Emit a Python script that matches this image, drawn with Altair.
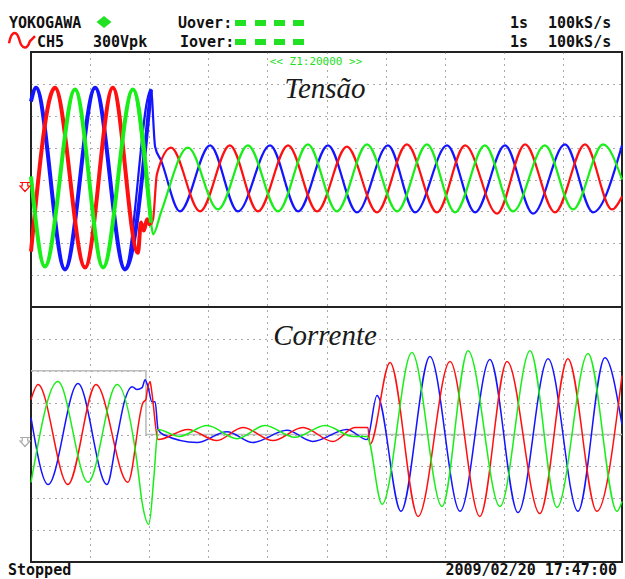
import altair as alt
import pandas as pd

# ---------------- data (time in ms, value in screen divisions) ----------------
# Tensão (top panel)
v_red_t = [0, 8.1, 18.3, 27.7, 36.2, 37.2, 38.2, 39.3, 40.3, 41.3, 42.6, 47.4, 57.2, 67.3, 76.8, 87.0, 96.8, 106.9,
           117.1, 127.2, 137.4, 146.9, 157.7, 167.2, 177.3, 187.5, 196.6, 200]
v_red = [-2.26, 2.88, -2.76, 2.88, -2.30, -1.35, -1.60, -1.25, -1.44, -1.25, 0.16, 1.00, -1.00, 1.07, -1.00, 1.07,
         -1.00, 1.03, -1.03, 1.10, -1.03, 1.07, -1.07, 1.10, -1.03, 1.10, -0.94, -0.53]

v_blue_t = [0, 1.7, 11.5, 21.7, 31.8, 40.6, 42.0, 44.0, 50.4, 60.6, 70.0, 80.9, 90.4, 100.5, 110.3, 120.8, 130.0,
            140.8, 150.3, 160.4, 169.9, 180.7, 190.2, 200]
v_blue = [2.45, 2.88, -2.82, 2.88, -2.82, 2.82, 1.03, 0.60, -1.00, 1.07, -1.00, 1.07, -1.00, 1.07, -1.03, 1.07,
          -1.03, 1.07, -1.03, 1.07, -1.07, 1.10, -1.03, 1.07]

v_green_t = [0, 4.7, 14.9, 24.4, 34.5, 40.6, 41.3, 44.0, 53.1, 63.3, 73.4, 83.6, 93.7, 103.5, 113.7, 123.9, 134.0,
             143.5, 153.6, 163.1, 173.9, 183.4, 193.6, 200]
v_green = [0.09, -2.73, 2.82, -2.76, 2.82, -1.35, -1.72, -1.03, 1.00, -0.94, 1.07, -1.00, 1.10, -1.00, 1.10, -1.00,
           1.10, -1.03, 1.07, -1.00, 1.07, -0.94, 1.10, 0.00]

# Corrente (bottom panel)
i_red_t = [0, 2.4, 12.5, 22.0, 32.8, 37.9, 38.9, 39.3, 40.3, 40.9, 43.0, 53.1, 62.9, 71.7, 81.9, 92.0, 102.2, 109.6,
           114.0, 114.7, 121.5, 131.0, 141.8, 151.9, 161.1, 172.2, 181.7, 191.5, 200]
i_red = [1.10, 1.57, -1.57, 1.57, -1.50, 1.00, 1.10, 1.35, 1.66, 1.32, -0.16, 0.16, -0.19, 0.22, -0.19, 0.22, -0.22,
         0.22, 0.22, -0.31, 2.26, -2.57, 2.29, -2.57, 2.29, -2.48, 2.38, -2.41, 1.85]

i_green_t = [0, 9.1, 19.3, 29.1, 35.9, 37.6, 39.9, 41.6, 43.0, 50.1, 59.6, 69.7, 79.2, 89.3, 99.5, 109.0, 113.7,
             118.8, 128.9, 139.1, 147.9, 158.7, 168.9, 178.0, 188.5, 198.3, 200]
i_green = [-1.50, 1.66, -1.50, 1.57, -0.88, -2.13, -2.82, -1.32, 0.16, -0.06, 0.28, -0.13, 0.28, -0.09, 0.28, -0.06,
           -0.06, -2.19, 2.57, -2.26, 2.63, -2.26, 2.63, -2.29, 2.54, -2.41, -2.10]

i_blue_t = [0, 5.8, 15.9, 25.7, 29.1, 31.8, 34.2, 35.9, 37.6, 38.6, 39.6, 40.9, 42.0, 43.0, 44.7, 56.2, 66.3, 75.1,
            86.6, 95.4, 106.9, 113.7, 117.1, 125.2, 135.0, 145.2, 155.3, 164.8, 175.0, 185.1, 194.2, 200]
i_blue = [0.53, -1.57, 1.60, -1.57, -0.09, 1.10, 1.50, 1.41, 1.47, 1.72, 1.50, 1.03, 1.03, 0.16, 0.00, -0.25, 0.09,
          -0.25, 0.13, -0.22, 0.16, -0.16, 1.22, -2.41, 2.45, -2.41, 2.35, -2.45, 2.38, -2.41, 2.41, 0.31]

# trigger / reference trace (gray)
trig_t = [0, 38.9, 38.9, 200]
trig_v = [2.0, 2.0, 0.0, 0.0]

phases = ["R", "G", "B"]
phase_colors = ["#ff1010", "#19ee19", "#1414ff"]

series = [
    ("V", "B", v_blue_t, v_blue), ("V", "R", v_red_t, v_red), ("V", "G", v_green_t, v_green),
    ("I", "B", i_blue_t, i_blue), ("I", "R", i_red_t, i_red), ("I", "G", i_green_t, i_green),
]
rows = []
for panel, ph, ts, vs in series:
    for k, (t, v) in enumerate(zip(ts, vs)):
        rows.append({"panel": panel, "phase": ph, "key": panel + ph, "t": t, "v": v, "i": k})
df = pd.DataFrame(rows)
trig_df = pd.DataFrame({"t": trig_t, "v": trig_v, "i": list(range(len(trig_t)))})

# ---------------- encodings ----------------
X = alt.X("t:Q", scale=alt.Scale(domain=[0, 200], nice=False, zero=False),
          axis=alt.Axis(values=list(range(20, 200, 20)), grid=True, gridDash=[1, 5], gridColor="#555",
                        gridWidth=1, labels=False, ticks=False, domain=False, title=None))
Y = alt.Y("y:Q", scale=alt.Scale(domain=[-8, 8], nice=False, zero=False),
          axis=alt.Axis(values=[-7, -6, -5, -4, -3, -2, -1, 1, 2, 3, 4, 5, 6, 7], grid=True, gridDash=[1, 5],
                        gridColor="#555", gridWidth=1, labels=False, ticks=False, domain=False, title=None))
COLOR = alt.Color("phase:N", scale=alt.Scale(domain=phases, range=phase_colors), legend=None)

base = alt.Chart(df).transform_calculate(
    y="datum.panel == 'V' ? datum.v + 4 : datum.v - 4"
).encode(x=X, y=Y, color=COLOR, detail="key:N")

trig = alt.Chart(trig_df).transform_calculate(y="datum.v - 4").mark_line(
    color="#bdbdbd", strokeWidth=1.6).encode(x=X, y=Y, order="i:Q")

v_thick = base.transform_filter("datum.panel == 'V' && datum.t <= 41").mark_line(
    interpolate="monotone", strokeWidth=4)
v_line = base.transform_filter("datum.panel == 'V'").mark_line(interpolate="monotone", strokeWidth=2.2)
i_line = base.transform_filter("datum.panel == 'I'").mark_line(interpolate="monotone", strokeWidth=1.5)

ONE = pd.DataFrame({"a": [0]})
OX, OY = 31, 52  # plot origin in page pixels


def label(text, x, y, size=15, color="#111", font="DejaVu Sans Mono", weight="bold", align="left", style="normal"):
    return alt.Chart(ONE).mark_text(text=text, fontSize=size, font=font, fontWeight=weight, color=color,
                                    align=align, baseline="alphabetic", fontStyle=style).encode(
        x=alt.value(x - OX), y=alt.value(y - OY))


def rect(x0, x1, y0, y1, color):
    return alt.Chart(ONE).mark_rect(color=color).encode(
        x=alt.value(x0 - OX), x2=alt.value(x1 - OX), y=alt.value(y0 - OY), y2=alt.value(y1 - OY))


def symbol(path, x, y, size, color, filled=False, sw=1.2):
    return alt.Chart(ONE).mark_point(shape=path, size=size, filled=filled, color=color, strokeWidth=sw,
                                     opacity=1).encode(x=alt.value(x - OX), y=alt.value(y - OY))


divider = alt.Chart(ONE).mark_rule(color="#222", strokeWidth=2).encode(
    x=alt.value(0), x2=alt.value(591), y=alt.value(255))

GREEN = "#22e022"
layers = [trig, v_line, v_thick, i_line, divider,
          label("YOKOGAWA", 9, 28),
          symbol("M -1 0 L 0 -0.8 L 1 0 L 0 0.8 Z", 104, 22, 225, GREEN, filled=True),
          label("Uover:", 178, 28),
          label("Iover:", 180, 47),
          label("CH5", 37, 47),
          label("300Vpk", 93, 47),
          symbol("M -1 0.25 C -0.8 -0.75 -0.4 -0.75 -0.2 0 C 0 0.75 0.4 0.75 0.6 0.1 L 1 -0.3", 22, 40, 676,
                 "#ff1010", filled=False, sw=2.5),
          label("1s", 510, 28), label("100kS/s", 548, 28),
          label("1s", 510, 47), label("100kS/s", 548, 47),
          label("<< Z1:20000 >>", 316, 65, size=11, color=GREEN, weight="normal", align="center"),
          label("Tensão", 325, 98, size=29, color="#1a1a1a", font="Liberation Serif", weight="normal",
                align="center", style="italic"),
          label("Corrente", 325, 345, size=29, color="#1a1a1a", font="Liberation Serif", weight="normal",
                align="center", style="italic"),
          label("Stopped", 8, 575),
          label("2009/02/20 17:47:00", 617, 575, align="right"),
          symbol("M -1 -0.9 L 1 -0.9 M -0.55 -0.9 L -0.55 -0.2 L -1 -0.2 L 0 0.9 L 1 -0.2 L 0.55 -0.2 L 0.55 -0.9",
                 25, 187, 100, "#ff1010"),
          symbol("M -1 -0.9 L 1 -0.9 M -0.55 -0.9 L -0.55 -0.2 L -1 -0.2 L 0 0.9 L 1 -0.2 L 0.55 -0.2 L 0.55 -0.9",
                 25, 442, 100, "#aaaaaa"),
          ]
for row_y0, row_y1 in [(20, 26), (39, 45)]:
    for x0 in [235, 255, 274, 293]:
        layers.append(rect(x0, x0 + 11, row_y0, row_y1, GREEN))

chart = alt.layer(*layers).properties(
    width=591, height=510,
    autosize=alt.AutoSizeParams(type="none"),
    padding={"left": 31, "top": 52, "right": 3, "bottom": 17},
    background="white",
).configure_view(stroke="#222", strokeWidth=2)

chart.save("out.html", embed_options={"renderer": "svg", "actions": False})
